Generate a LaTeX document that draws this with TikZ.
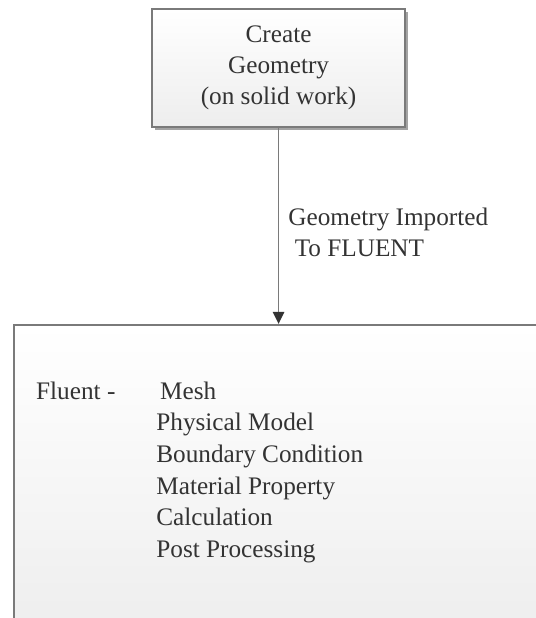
\documentclass[tikz,border=0pt]{standalone}
\usepackage{fontspec}
\setmainfont{Liberation Serif}
\usepackage{xcolor}
\usepackage{tikz}
\usetikzlibrary{positioning,arrows.meta,shadows}

\definecolor{boxline}{HTML}{7A7A7A}
\definecolor{inktext}{HTML}{333333}

\begin{document}
\begin{tikzpicture}[
    stage/.style={draw=boxline, line width=1.5pt, top color=white, bottom color=gray!14,
                  font=\fontsize{19}{23.4}\selectfont, text=inktext},
    note/.style={font=\fontsize{19}{23.4}\selectfont, text=inktext, align=left, inner sep=0pt},
    >={Triangle[width=8.5pt,length=9pt,color=inktext]}
]
\clip (0,0) rectangle (14.18,-16.35);

\node[stage, align=center, minimum width=6.7cm, minimum height=3.12cm,
      drop shadow={shadow xshift=2pt, shadow yshift=-2pt, fill=black!45, opacity=0.8}]
      (geo) at (7.37,-1.80) {Create\\Geometry\\(on solid work)};
\node[stage, anchor=north west, minimum width=15cm, minimum height=8.4cm] (fluent) at (0.34,-8.57) {};

\draw[->, draw=boxline, line width=1.2pt] (geo.south) -- (geo.south |- fluent.north)
    node[note, pos=0.5, right=0.24cm, yshift=-0.16cm] (imp) {Geometry Imported\\\hspace{0.25em}To FLUENT};

\node[note, anchor=base west] (tool) at (0.95,-10.56) {Fluent -};
\node[note, anchor=base west] (mesh) at (4.23,-10.56) {Mesh};
\node[note, anchor=base west] (phys) at (4.13,-11.40) {Physical Model};
\node[note, anchor=base west] (bc) at (4.13,-12.24) {Boundary Condition};
\node[note, anchor=base west] (mat) at (4.13,-13.07) {Material Property};
\node[note, anchor=base west] (calc) at (4.13,-13.91) {Calculation};
\node[note, anchor=base west] (post) at (4.13,-14.74) {Post Processing};
\end{tikzpicture}
\end{document}
